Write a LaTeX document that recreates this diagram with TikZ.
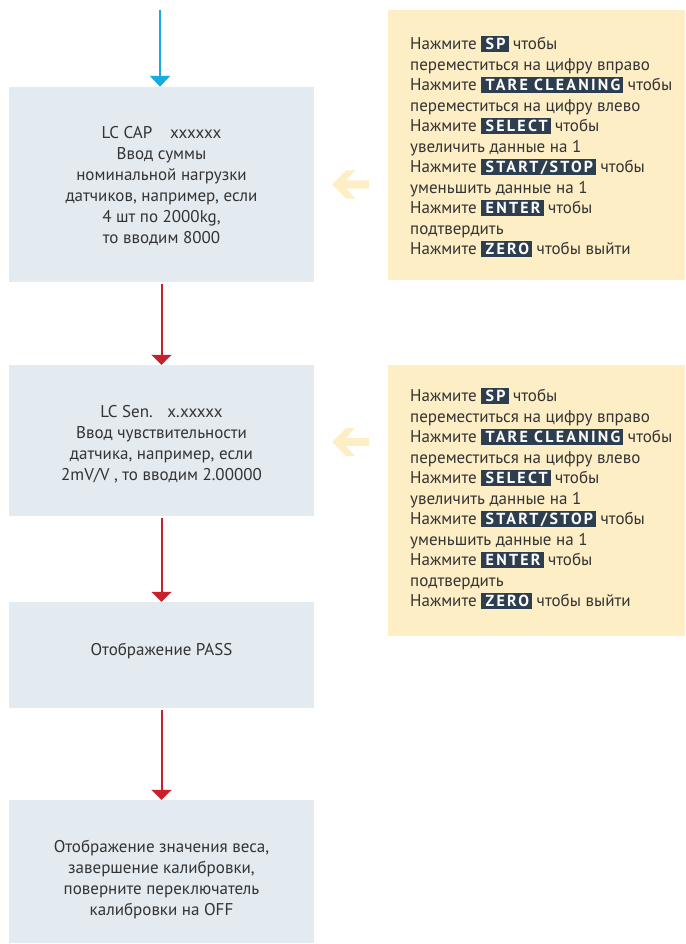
\documentclass[tikz,border=0pt]{standalone}
\usepackage{fontspec}
\setmainfont{PT Sans}
\newfontfamily\keyfont[LetterSpace=14]{PT Sans Bold}
\usetikzlibrary{arrows.meta}

\definecolor{stepfill}{HTML}{E4EBF0}
\definecolor{notefill}{HTML}{FDEEC6}
\definecolor{keyc}{HTML}{2D3E4E}
\definecolor{txt}{HTML}{333333}
\definecolor{flowblue}{HTML}{1BA9E1}
\definecolor{flowred}{HTML}{C9202E}
\definecolor{hintarrow}{HTML}{FDEEC6}

% dark key label with white bold caption
\newcommand\keylbl[1]{{\setlength\fboxsep{0pt}\colorbox{keyc}{\rule[-2.5pt]{0pt}{16pt}\hspace{4.5pt}\textcolor{white}{\fontsize{16}{16}\keyfont #1}\hspace{3pt}}}}
% centred block of lines, placed relative to the centre of a step box
\newcommand\lines[2]{\raisebox{#1}[0pt][0pt]{\begin{tabular}{@{}c@{}}#2\end{tabular}}}

\tikzset{
  stepbox/.style={rectangle, fill=stepfill, inner sep=0pt, minimum width=305pt,
    align=center, text=txt, font=\fontsize{17}{21}\selectfont},
  notebox/.style={rectangle, fill=notefill, inner sep=0pt, anchor=north west,
    minimum width=297pt},
  notetext/.style={anchor=north west, inner sep=0pt, align=left, text=txt,
    font=\fontsize{17}{20.5}\selectfont},
  bluearrow/.style={draw=flowblue, line width=2.6pt,
    -{Triangle[width=20pt,length=11pt]}, color=flowblue},
  redarrow/.style={draw=flowred, line width=2pt,
    -{Triangle[width=20pt,length=10pt]}, color=flowred, shorten <=1.5pt},
  hint/.style={fill=hintarrow, draw=none}
}

\newcommand\keyhelp{%
Нажмите \keylbl{SP} чтобы\\
переместиться на цифру вправо\\
Нажмите \keylbl{TARE CLEANING} чтобы\\
переместиться на цифру влево\\
Нажмите \keylbl{SELECT} чтобы\\
увеличить данные на 1\\
Нажмите \keylbl{START/STOP} чтобы\\
уменьшить данные на 1\\
Нажмите \keylbl{ENTER} чтобы\\
подтвердить\\
Нажмите \keylbl{ZERO} чтобы выйти}

\begin{document}
\begin{tikzpicture}[x=1pt, y=-1pt]
\useasboundingbox (0,0) rectangle (685,944);

% flow steps
\node[stepbox, minimum height=195pt] (cap) at (161.5,184.5)
  {\lines{-6.75pt}{LC CAP\hspace{1.05em}xxxxxx\\ Ввод суммы\\ номинальной нагрузки\\
   датчиков, например, если\\ 4 шт по 2000kg,\\ то вводим 8000}};
\node[stepbox, minimum height=151pt] (sen) at (161.5,440.5)
  {\lines{-8.5pt}{LC Sen.\hspace{0.85em}x.xxxxx\\ Ввод чувствительности\\
   датчика, например, если\\ 2mV/V , то вводим 2.00000}};
\node[stepbox, minimum height=106pt] (pass) at (161.5,655)
  {\lines{-1pt}{Отображение PASS}};
\node[stepbox, minimum height=143pt] (done) at (161.5,871.5)
  {\lines{-13pt}{Отображение значения веса,\\ завершение калибровки,\\
   поверните переключатель\\ калибровки на OFF}};

% connectors
\coordinate (entry) at (160,10);
\draw[bluearrow] (entry) -- (entry |- cap.north);
\draw[redarrow] (cap.south) -- (sen.north);
\draw[redarrow] (sen.south) -- (pass.north);
\draw[redarrow] (pass.south) -- (done.north);

% key help panels
\node[notebox, minimum height=270pt] (help1) at (388,10) {};
\node[notetext] (help1text) at (410,36) {\keyhelp};
\node[notebox, minimum height=271pt] (help2) at (388,365) {};
\node[notetext] (help2text) at (410,388) {\keyhelp};

% hint arrows pointing to the steps
\foreach \cy/\nm in {184.5/hintA, 442/hintB}{
  \coordinate (\nm) at (350,\cy);
  \fill[hint] ([shift={(-18,0)}]\nm) -- ([shift={(-4,-14)}]\nm) -- ([shift={(5,-14)}]\nm)
    -- ([shift={(-4,-4)}]\nm) -- ([shift={(19,-4)}]\nm) -- ([shift={(19,4)}]\nm)
    -- ([shift={(-4,4)}]\nm) -- ([shift={(5,14)}]\nm) -- ([shift={(-4,14)}]\nm) -- cycle;
}
\end{tikzpicture}
\end{document}
